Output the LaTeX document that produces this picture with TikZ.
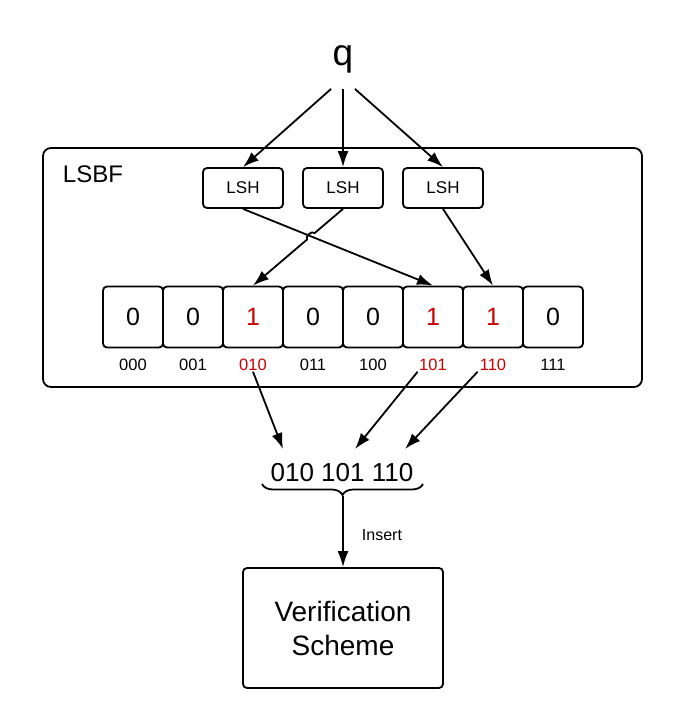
\documentclass[tikz,border=0pt]{standalone}
\usepackage{fontspec}
\setmainfont{Liberation Sans}
\usetikzlibrary{arrows.meta, decorations.pathreplacing, calc}
\definecolor{bitred}{RGB}{204,0,0}

\begin{document}
\begin{tikzpicture}[x=1pt, y=-1pt, line width=1.8pt, >={Latex[length=16pt,width=11pt]},
cell/.style = {draw, rounded corners=4pt, minimum width=60pt, minimum height=61pt,
               inner sep=0pt, font=\fontsize{25}{30}\selectfont},
hashbox/.style = {draw, rounded corners=4pt, minimum width=80pt, minimum height=40pt,
                  inner sep=0pt, font=\fontsize{17}{20}\selectfont},
idx/.style = {inner sep=0pt, minimum width=29pt, font=\fontsize{16.5}{19}\selectfont}]
\useasboundingbox (0,0) rectangle (687,710);
% query and the filter frame
\node[inner sep=0pt, minimum width=22pt, minimum height=58pt, font=\fontsize{37}{44}\selectfont] (q) at (343,59) {q};
\node[draw, rounded corners=8pt, minimum width=599pt, minimum height=239pt] (lsbf) at (342.5,267.5) {};
\node[font=\fontsize{24}{28}\selectfont] (lsbf_label) at (93,174) {LSBF};
% hash functions
\node[hashbox] (lsh1) at (243,188) {LSH};
\node[hashbox] (lsh2) at (343,188) {LSH};
\node[hashbox] (lsh3) at (443,188) {LSH};
% bit array
\node[cell] (c000) at (133,317) {0};
\node[cell] (c001) at (193,317) {0};
\node[cell, text=bitred] (c010) at (253,317) {1};
\node[cell] (c011) at (313,317) {0};
\node[cell] (c100) at (373,317) {0};
\node[cell, text=bitred] (c101) at (433,317) {1};
\node[cell, text=bitred] (c110) at (493,317) {1};
\node[cell] (c111) at (553,317) {0};
\node[idx] (i000) at (133,365) {000};
\node[idx] (i001) at (193,365) {001};
\node[idx, text=bitred] (i010) at (253,365) {010};
\node[idx] (i011) at (313,365) {011};
\node[idx] (i100) at (373,365) {100};
\node[idx, text=bitred] (i101) at (433,365) {101};
\node[idx, text=bitred] (i110) at (493,365) {110};
\node[idx] (i111) at (553,365) {111};
% result and verification
\node[inner sep=0pt, font=\fontsize{26}{31}\selectfont] (keys) at (342,473) {010 101 110};
\coordinate (k1) at (283,449);
\coordinate (k2) at (355,449);
\coordinate (k3) at (405,449);
\coordinate (brace_tip) at (343,496);
\node[draw, rounded corners=4pt, minimum width=200pt, minimum height=120pt, align=center,
      font=\fontsize{28}{34}\selectfont] (verif) at (343,628) {Verification\\Scheme};
\node[font=\fontsize{16}{19}\selectfont] (insert_label) at (382,535) {Insert};

\draw[->] (q.south west) -- (lsh1.north);
\draw[->] (q.south) -- (lsh2.north);
\draw[->] (q.south east) -- (lsh3.north);
\draw[->] (lsh1.south) -- (c101.north);
\coordinate (cross) at (intersection of lsh1.south--c101.north and lsh2.south--c010.north);
\draw[->] (lsh2.south) -- ($(cross)!5pt!(lsh2.south)$) to[bend right=90] ($(cross)!5pt!(c010.north)$) -- (c010.north);
\draw[->] (lsh3.south) -- (c110.north);
\draw[->] (i010.south) -- (k1);
\draw[->] (i101.south west) -- (k2);
\draw[->] (i110.south west) -- (k3);
\draw[decorate, decoration={brace, mirror, amplitude=11pt}] (262,484) -- (423,484);
\draw[->] (brace_tip) -- (verif.north);
\end{tikzpicture}
\end{document}
